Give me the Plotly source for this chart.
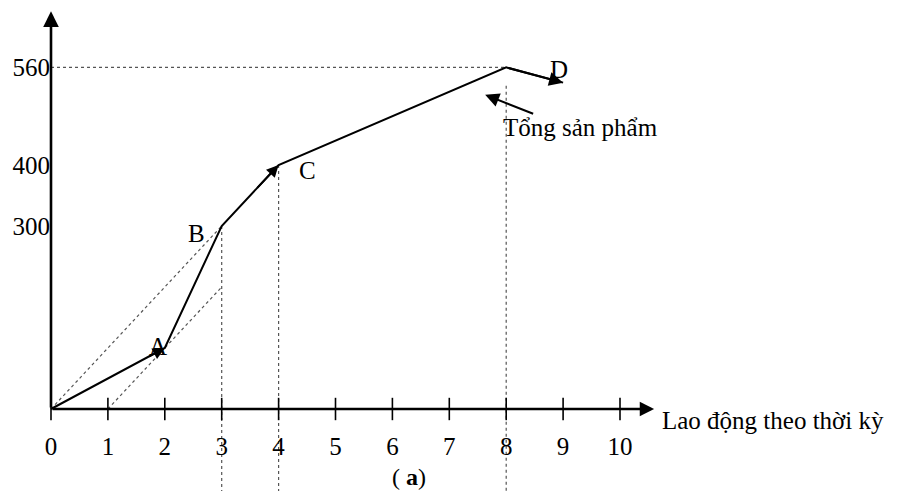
import plotly.graph_objects as go

# ---- data ----
labor = [0, 2, 3, 4, 8, 9]            # Lao động
output = [0, 100, 300, 400, 560, 535]  # Tổng sản phẩm
point_names = ["A", "B", "C", "D"]
point_x = [2, 3, 4, 8]
point_y = [100, 300, 400, 560]
xticks = [0, 1, 2, 3, 4, 5, 6, 7, 8, 9, 10]
yticks = [300, 400, 560]
ray1_x = [0, 3]; ray1_y = [0, 300]     # tia từ gốc tới B
ray2_x = [1, 3]; ray2_y = [0, 200]     # đường qua A
vlines_x = [3, 4, 8]
vlines_top = [300, 400, 530]

# page has an 8px body margin; figure sized to fit the 924x499 window
OFF = 8
W, H = 916, 483
px_per_x = 56.9
px_per_y = 0.61
x0_px, y0_px = 51 - OFF, 409 - OFF
xr = [-x0_px / px_per_x, (W - x0_px) / px_per_x]
yr = [-(H - y0_px) / px_per_y, y0_px / px_per_y]

FONT = "Liberation Serif"
fs = 25

fig = go.Figure()

# dotted guide lines
dot = dict(color="#555", width=1.2, dash="dot")
fig.add_trace(go.Scatter(x=ray1_x, y=ray1_y, mode="lines", line=dot, hoverinfo="skip"))
fig.add_trace(go.Scatter(x=ray2_x, y=ray2_y, mode="lines", line=dot, hoverinfo="skip"))
for vx, vt in zip(vlines_x, vlines_top):
    fig.add_trace(go.Scatter(x=[vx, vx], y=[vt, yr[0]], mode="lines", line=dot, hoverinfo="skip"))
fig.add_trace(go.Scatter(x=[0, point_x[3]], y=[point_y[3], point_y[3]], mode="lines",
                         line=dot, hoverinfo="skip"))

# total product curve
fig.add_trace(go.Scatter(x=labor, y=output, mode="lines",
                         line=dict(color="black", width=2)))

# tick marks crossing the x axis
fig.add_trace(go.Scatter(x=xticks, y=[0] * len(xticks), mode="markers",
                         marker=dict(symbol="line-ns", size=16,
                                     line=dict(width=1.6, color="black"))))

ann = []
# axes with arrows
ann.append(dict(x=10.6, y=0, ax=0, ay=0, xref="x", yref="y", axref="x", ayref="y",
                text="", showarrow=True, arrowhead=2, arrowsize=1.2, arrowwidth=2.4,
                arrowcolor="black", standoff=0, startstandoff=0))
ann.append(dict(x=0, y=652, ax=0, ay=0, xref="x", yref="y", axref="x", ayref="y",
                text="", showarrow=True, arrowhead=2, arrowsize=1.2, arrowwidth=2.6,
                arrowcolor="black", standoff=0, startstandoff=0))
# arrows along the curve
ann.append(dict(x=labor[1], y=output[1], ax=1.7, ay=85, xref="x", yref="y", axref="x", ayref="y",
                text="", showarrow=True, arrowhead=2, arrowsize=1.2, arrowwidth=2,
                arrowcolor="black", standoff=0))
ann.append(dict(x=labor[3], y=output[3], ax=3.6, ay=360, xref="x", yref="y", axref="x", ayref="y",
                text="", showarrow=True, arrowhead=2, arrowsize=1.2, arrowwidth=2,
                arrowcolor="black", standoff=0))
ann.append(dict(x=labor[5], y=output[5], ax=labor[4], ay=output[4], xref="x", yref="y",
                axref="x", ayref="y", text="", showarrow=True, arrowhead=2, arrowsize=1.4,
                arrowwidth=2, arrowcolor="black", standoff=0))

# point labels
offsets = [(-7, 2), (-25, -7), (29, -5), (53, -2)]
for n, px_, py_, (dx, dy) in zip(point_names, point_x, point_y, offsets):
    ann.append(dict(x=px_, y=py_, xref="x", yref="y", text=n, showarrow=False,
                    xshift=dx, yshift=dy, font=dict(family=FONT, size=fs, color="black")))

# "Tổng sản phẩm" label with arrow
ann.append(dict(x=9.3, y=461, xref="x", yref="y", text="Tổng sản phẩm", showarrow=False,
                font=dict(family=FONT, size=fs, color="black")))
ann.append(dict(x=7.63, y=515, ax=8.5, ay=483, xref="x", yref="y", axref="x", ayref="y",
                text="", showarrow=True, arrowhead=2, arrowsize=1.4, arrowwidth=2,
                arrowcolor="black", standoff=0))

# axis title and caption
ann.append(dict(x=(660 - OFF) / W, y=1 - (420 - OFF) / H, xref="paper", yref="paper",
                xanchor="left", yanchor="middle", text="Lao động theo thời kỳ",
                showarrow=False, font=dict(family=FONT, size=fs, color="black")))
ann.append(dict(x=(409 - OFF) / W, y=0, xref="paper", yref="paper",
                yanchor="bottom", text="( <b>a</b>)", showarrow=False, borderpad=0,
                font=dict(family=FONT, size=24, color="black")))

fig.update_layout(
    width=W, height=H, margin=dict(l=0, r=0, t=0, b=0),
    paper_bgcolor="white", plot_bgcolor="white", showlegend=False,
    annotations=ann,
    xaxis=dict(range=xr, showgrid=False, zeroline=False, showline=False,
               tickvals=xticks, ticktext=[str(v) for v in xticks], ticks="",
               anchor="free", position=(H - y0_px) / H, ticklabelstandoff=20,
               tickfont=dict(family=FONT, size=fs, color="black"), fixedrange=True),
    yaxis=dict(range=yr, showgrid=False, zeroline=False, showline=False,
               tickvals=yticks, ticktext=[str(v) for v in yticks], ticks="",
               anchor="free", position=x0_px / W, ticklabelstandoff=1,
               tickfont=dict(family=FONT, size=fs, color="black"), fixedrange=True),
)

fig.write_html("out.html")
